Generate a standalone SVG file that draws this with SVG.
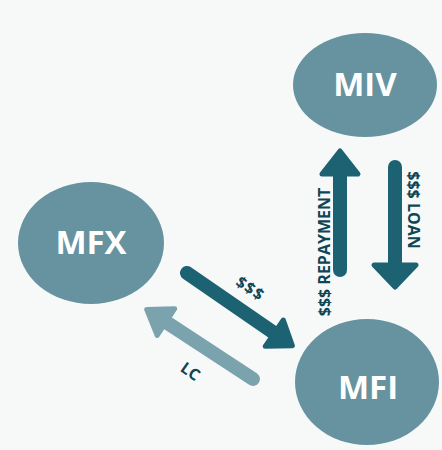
<svg xmlns="http://www.w3.org/2000/svg" width="442" height="450" viewBox="0 0 442 450">
<style>
.node{fill:#66939f}
.nlabel{font-family:"Open Sans","Liberation Sans",sans-serif;font-weight:bold;font-size:33px;fill:#ffffff;text-anchor:middle}
.alabel{font-family:"Open Sans","Liberation Sans",sans-serif;font-weight:bold;font-size:16px;fill:#0e4655;text-anchor:middle}
.dark{fill:#1d6272;stroke:#1d6272}
.light{fill:#7aa3ae;stroke:#7aa3ae}
.shaft{stroke-width:14;stroke-linecap:round;fill:none}
.head{stroke-width:5;stroke-linejoin:round}
</style>
<rect width="442" height="450" fill="#f7f9f9"/>
<g id="connectors">
  <g id="arrow-repayment" class="dark" transform="translate(340,270) rotate(-90)">
    <line class="shaft" x1="0" y1="0" x2="105" y2="0"/>
    <polygon class="head" points="96,-18 119,0 96,18"/>
  </g>
  <g id="arrow-loan" class="dark" transform="translate(395,167) rotate(90)">
    <line class="shaft" x1="0" y1="0" x2="105" y2="0"/>
    <polygon class="head" points="98,-21 120,0 98,21"/>
  </g>
  <g id="arrow-usd" class="dark" transform="translate(187,273) rotate(34.6)">
    <line class="shaft" x1="0" y1="0" x2="112" y2="0"/>
    <polygon class="head" points="106,-16 128,0 106,16"/>
  </g>
  <g id="arrow-lc" class="light" transform="translate(253,379) rotate(213.2)">
    <line class="shaft" x1="0" y1="0" x2="112" y2="0"/>
    <polygon class="head" points="104,-16 127,0 104,16"/>
  </g>
  <text class="alabel" transform="translate(330,252) rotate(-90)">$$$ REPAYMENT</text>
  <text class="alabel" transform="translate(408,210) rotate(90)">$$$ LOAN</text>
  <text class="alabel" transform="translate(250,289) rotate(34)" y="5" letter-spacing="1">$$$</text>
  <text class="alabel" transform="translate(190,372) rotate(35)" y="5">LC</text>
</g>
<g id="node-miv">
  <ellipse class="node" cx="365" cy="85" rx="72" ry="52"/>
  <text class="nlabel" x="365" y="96">MIV</text>
</g>
<g id="node-mfx">
  <ellipse class="node" cx="91" cy="243" rx="73" ry="61"/>
  <text class="nlabel" x="91" y="254">MFX</text>
</g>
<g id="node-mfi">
  <ellipse class="node" cx="367" cy="382" rx="72" ry="63"/>
  <text class="nlabel" x="368" y="399">MFI</text>
</g>
</svg>
